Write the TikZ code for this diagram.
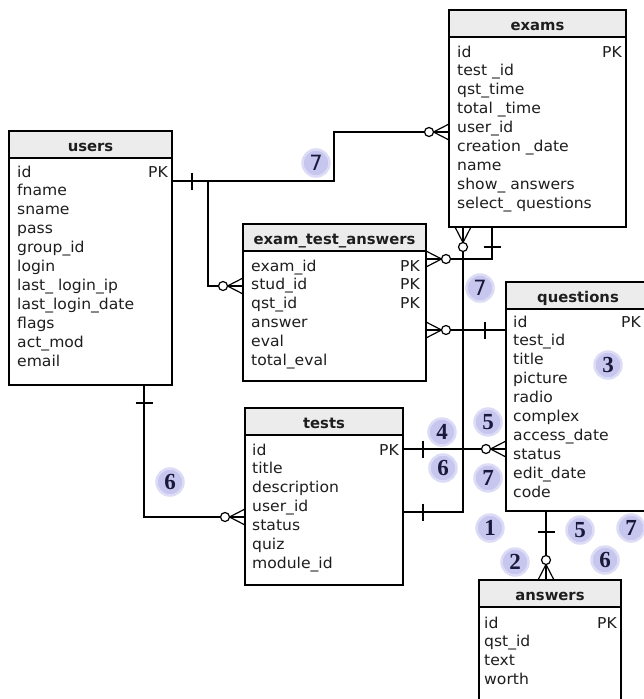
\documentclass[tikz,border=0pt]{standalone}
\usepackage{fontspec}
\setmainfont{DejaVu Sans}[FakeStretch=1.04]
\newfontfamily\ttlfont{DejaVu Sans}
\newfontfamily\numserif{Liberation Serif}
\newfontfamily\numsans{DejaVu Sans}
\definecolor{hdrc}{RGB}{236,236,236}
\definecolor{lav}{RGB}{198,198,238}
\definecolor{lavlt}{RGB}{220,220,246}
\definecolor{txtc}{RGB}{30,30,30}
\definecolor{numcol}{RGB}{25,25,60}
\tikzset{
  tbl/.style={draw, line width=1.3pt, inner sep=0pt, outer sep=0pt, anchor=north west},
  row/.style={anchor=base west, inner sep=0pt, text=txtc, font=\fontsize{15}{17}\selectfont},
  pkey/.style={anchor=base east, inner sep=0pt, text=txtc, font=\fontsize{15}{17}\selectfont},
  ttl/.style={anchor=base, inner sep=0pt, text=txtc, font=\ttlfont\bfseries\fontsize{14.8}{17}\selectfont},
  conn/.style={line width=1.2pt},
  numb/.style={circle, fill=lav, draw=lavlt, line width=2.5pt, minimum size=27pt, inner sep=0pt, text=numcol, font=\numserif\bfseries\fontsize{23}{23}\selectfont},
  numbs/.style={numb, font=\numsans\fontsize{21}{21}\selectfont}
}
% #1 name, #2 left, #3 top, #4 width, #5 height, #6 title
\newcommand\ertable[6]{%
  \fill[hdrc] (#2,#3) rectangle ++(#4,27);
  \draw[line width=1.2pt] (#2,#3) ++(0,27) -- ++(#4,0);
  \node[tbl, minimum width=#4pt, minimum height=#5pt] (#1) at (#2,#3) {};
  \node[ttl] (#1-title) at ($(#1.north)+(0,20)$) {#6};
}
% #1 name, #2 x, #3 first baseline, #4 list
\newcommand\errows[4]{%
  \foreach \t [count=\i from 0] in {#4} {\node[row] (#1-r\i) at (#2,#3+18.9*\i) {\t};}
}
\newcommand\crowfoot[2]{%
  \begin{scope}[shift={#1}, rotate=#2]
    \draw[conn] (4.5,0) -- (20,8) (4.5,0) -- (20,0) (4.5,0) -- (20,-8);
    \draw[conn, fill=white] (0,0) circle[radius=4.5pt];
  \end{scope}}
\newcommand\vtick[1]{\draw[conn] (#1) ++(0,-8.5) -- ++(0,17);}
\newcommand\htick[1]{\draw[conn] (#1) ++(-8.5,0) -- ++(17,0);}
\usetikzlibrary{calc}
\begin{document}
\begin{tikzpicture}[x=1pt, y=-1pt]
\useasboundingbox (0,0) rectangle (644,699);
\clip (0,0) rectangle (644,699);
\fill[white] (0,0) rectangle (644,699);

% ---------- connectors ----------
% users.id -> exams.user_id
\coordinate (uA) at (172,181);
\coordinate (eA) at (449,132);
\draw[conn] (uA) -- (334,181) -- (334,132) -- (eA);
% branch to exam_test_answers.stud_id
\coordinate (etaA) at (243,286);
\draw[conn] (208,181) -- (208,286) -- (etaA);
% exam_test_answers.exam_id -> exams
\coordinate (etaB) at (426,259);
\coordinate (eB) at (492,227);
\draw[conn] (etaB) -- (492,259) -- (eB);
% exams.test_id -> tests
\coordinate (eC) at (463,227);
\coordinate (tA) at (403,512);
\draw[conn] (eC) -- (463,512) -- (tA);
% tests.id -> questions.test_id
\coordinate (tB) at (403,449);
\coordinate (qA) at (506,449);
\draw[conn] (tB) -- (qA);
% exam_test_answers -> questions.id
\coordinate (etaC) at (426,330);
\coordinate (qB) at (506,330);
\draw[conn] (etaC) -- (qB);
% users -> tests.user_id
\coordinate (uB) at (144,385);
\coordinate (tC) at (245,517);
\draw[conn] (uB) -- (144,517) -- (tC);
% questions -> answers
\coordinate (qC) at (546,511);
\coordinate (aA) at (546,580);
\draw[conn] (qC) -- (aA);

% ---------- tables ----------
\ertable{users}{9}{131}{163}{254}{users}
\errows{users}{17}{177}{id,fname,sname,pass,group\_id,login,last\_ login\_ip,last\_login\_date,flags,act\_mod,email}
\node[pkey] (users-pk) at (168,177) {PK};

\ertable{exams}{449}{10}{177}{217}{exams}
\errows{exams}{457}{57}{id,test \_id,qst\_time,total \_time,user\_id,creation \_date,name,show\_ answers,select\_ questions}
\node[pkey] (exams-pk) at (622,57) {PK};

\ertable{eta}{243}{224}{183}{157}{exam\_test\_answers}
\errows{eta}{251}{271}{exam\_id,stud\_id,qst\_id,answer,eval,total\_eval}
\node[pkey] (eta-pk1) at (420,271) {PK};
\node[pkey] (eta-pk2) at (420,289.9) {PK};
\node[pkey] (eta-pk3) at (420,308.8) {PK};

\ertable{tests}{245}{408}{158}{177}{tests}
\errows{tests}{252}{455}{id,title,description,user\_id,status,quiz,module\_id}
\node[pkey] (tests-pk) at (399,455) {PK};

\ertable{questions}{506}{282}{144}{229}{questions}
\errows{questions}{513}{327}{id,test\_id,title,picture,radio,complex,access\_date,status,edit\_date,code}
\node[pkey] (questions-pk) at (641,327) {PK};

\ertable{answers}{479}{580}{142}{140}{answers}
\errows{answers}{484}{628}{id,qst\_id,text,worth}
\node[pkey] (answers-pk) at (617,628) {PK};

% ---------- cardinality marks ----------
\vtick{192,181}
\crowfoot{(429,132)}{0}
\crowfoot{(223,286)}{0}
\crowfoot{(446,259)}{180}
\htick{492,247}
\crowfoot{(463,247)}{90}
\vtick{423,512}
\vtick{423,449}
\crowfoot{(486,449)}{0}
\crowfoot{(446,330)}{180}
\vtick{485,330}
\htick{144,403}
\crowfoot{(225,517)}{0}
\htick{546,532}
\crowfoot{(546,560)}{-90}

% ---------- numbered markers ----------
\node[numbs] (n1) at (316,163) {7};
\node[numbs] (n2) at (480,288) {7};
\node[numb] (n3) at (608,365) {3};
\node[numb] (n4) at (488,422) {5};
\node[numb] (n5) at (442,432) {4};
\node[numb] (n6) at (443,468) {6};
\node[numb] (n7) at (488,478) {7};
\node[numb] (n8) at (170,482) {6};
\node[numb] (n9) at (490,528) {1};
\node[numb] (n10) at (515,562) {2};
\node[numb] (n11) at (580,530) {5};
\node[numb] (n12) at (605,560) {6};
\node[numb] (n13) at (631,528) {7};
\end{tikzpicture}
\end{document}
